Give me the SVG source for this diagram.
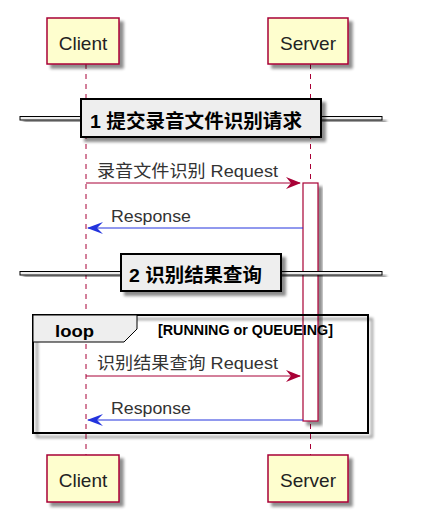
<svg xmlns="http://www.w3.org/2000/svg" width="425" height="517" viewBox="0 0 425 517">
<defs>
<filter id="sh" x="-20%" y="-20%" width="150%" height="160%">
<feGaussianBlur in="SourceAlpha" stdDeviation="1.8"/>
<feOffset dx="4" dy="4" result="b"/>
<feComponentTransfer><feFuncA type="linear" slope="0.45"/></feComponentTransfer>
<feMerge><feMergeNode/><feMergeNode in="SourceGraphic"/></feMerge>
</filter>
</defs>
<style>
.part{fill:#FEFECE;stroke:#A80036;stroke-width:1.5}
.ptxt{font-family:"Liberation Sans",Arial,sans-serif;font-size:19px;fill:#222;text-anchor:middle}
.life{stroke:#A80036;stroke-width:1;stroke-dasharray:5,5;fill:none}
.req{stroke:#A80036;stroke-width:1;fill:none}
.reqh{fill:#A80036}
.res{stroke:#2233DD;stroke-width:1;fill:none}
.resh{fill:#2233DD}
.mtxt{font-family:"Liberation Sans","Noto Sans CJK SC",sans-serif;font-size:17px;fill:#333}
.dbox{fill:#EEEEEE;stroke:#000;stroke-width:2}
.dline{fill:#EEEEEE;stroke:#000;stroke-width:1}
.dtxt{font-family:"Liberation Sans","Noto Sans CJK SC",sans-serif;font-size:19px;font-weight:bold;fill:#000}
.btxt{font-family:"Liberation Sans",Arial,sans-serif;font-weight:bold;fill:#000}
</style>
<rect width="425" height="517" fill="#fff"/>
<g id="lifelines">
<line class="life" x1="86" y1="64" x2="86" y2="455"/>
<line class="life" x1="310.5" y1="64" x2="310.5" y2="455"/>
</g>
<g id="activation">
<rect x="303" y="183" width="15" height="238" fill="#fff" stroke="#A80036" stroke-width="1.2" filter="url(#sh)"/>
</g>
<g id="client-top"><rect class="part" x="47" y="18" width="72" height="46" filter="url(#sh)"/><text class="ptxt" x="83" y="50">Client</text></g>
<g id="server-top"><rect class="part" x="268" y="18" width="80" height="46" filter="url(#sh)"/><text class="ptxt" x="308" y="50">Server</text></g>
<g id="divider1">
<rect class="dline" x="20" y="116.5" width="362" height="3.5" filter="url(#sh)"/>
<rect class="dbox" x="81" y="99" width="240" height="38" filter="url(#sh)"/>
<text class="dtxt" x="90" y="128" textLength="212" lengthAdjust="spacingAndGlyphs">1 提交录音文件识别请求</text>
</g>
<g id="divider2">
<rect class="dline" x="20" y="271.5" width="362" height="3.5" filter="url(#sh)"/>
<rect class="dbox" x="121" y="254" width="160" height="37" filter="url(#sh)"/>
<text class="dtxt" x="129" y="282" textLength="133" lengthAdjust="spacingAndGlyphs">2 识别结果查询</text>
</g>
<g id="connectors">
<line class="req" x1="86" y1="183" x2="300" y2="183"/>
<polygon class="reqh" points="301,183 286,177 291,183 286,189"/>
<text class="mtxt" x="97" y="177" textLength="181" lengthAdjust="spacingAndGlyphs">录音文件识别 Request</text>
<line class="res" x1="303" y1="228" x2="88" y2="228"/>
<polygon class="resh" points="87,228 103,222 97,228 103,234"/>
<text class="mtxt" x="111" y="222" textLength="80" lengthAdjust="spacingAndGlyphs">Response</text>
<line class="req" x1="86" y1="376" x2="300" y2="376"/>
<polygon class="reqh" points="301,376 286,370 291,376 286,382"/>
<text class="mtxt" x="97" y="369" textLength="181" lengthAdjust="spacingAndGlyphs">识别结果查询 Request</text>
<line class="res" x1="303" y1="420" x2="88" y2="420"/>
<polygon class="resh" points="87,420 103,414 97,420 103,426"/>
<text class="mtxt" x="111" y="414" textLength="80" lengthAdjust="spacingAndGlyphs">Response</text>
</g>
<g id="loop">
<rect x="33" y="315" width="335" height="118" fill="none" stroke="#000" stroke-width="2" filter="url(#sh)"/>
<polygon points="33,315 137,315 137,329 124,342 33,342" fill="#EEEEEE" stroke="#000" stroke-width="1"/>
<text class="btxt" x="55" y="337" font-size="17" textLength="39" lengthAdjust="spacingAndGlyphs">loop</text>
<text class="btxt" x="158" y="335" font-size="14.5" textLength="175" lengthAdjust="spacingAndGlyphs">[RUNNING or QUEUEING]</text>
</g>
<g id="client-bottom"><rect class="part" x="47" y="455" width="72" height="47" filter="url(#sh)"/><text class="ptxt" x="83" y="487">Client</text></g>
<g id="server-bottom"><rect class="part" x="268" y="455" width="80" height="47" filter="url(#sh)"/><text class="ptxt" x="308" y="487">Server</text></g>
</svg>
